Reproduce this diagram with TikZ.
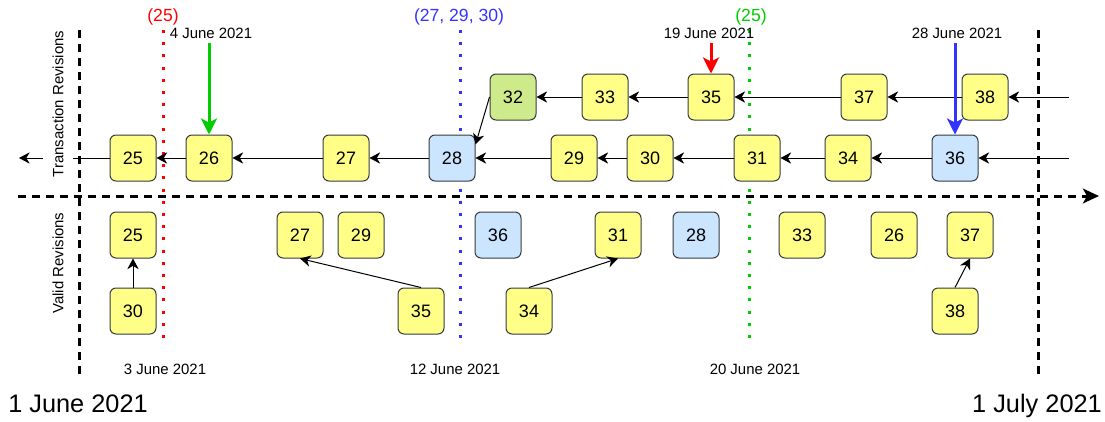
\documentclass[tikz,border=0pt]{standalone}
\usepackage{fontspec}
\setmainfont{Liberation Sans}
\usetikzlibrary{arrows.meta}

\definecolor{boxline}{HTML}{36393D}
\definecolor{revyellow}{HTML}{FFFF88}
\definecolor{revblue}{HTML}{CCE5FF}
\definecolor{revgreen}{HTML}{CDEB8B}
\definecolor{tagred}{HTML}{FF0000}
\definecolor{tagblue}{HTML}{3333FF}
\definecolor{taggreen}{HTML}{00CC00}

\begin{document}
\begin{tikzpicture}[x=0.75pt,y=-0.75pt,
  rev/.style={draw=boxline, line width=0.75pt, rounded corners=4.5pt,
    minimum width=34.5pt, minimum height=34.5pt, inner sep=0pt,
    font=\fontsize{13.5}{16}\selectfont, fill=revyellow},
  revb/.style={rev, fill=revblue},
  revg/.style={rev, fill=revgreen},
  link/.style={draw=black, line width=0.75pt,
    -{Stealth[length=8pt,width=8.5pt,inset=2.5pt]}},
  pointer/.style={line width=2.25pt,
    -{Stealth[length=12pt,width=12pt,inset=3pt]}},
  cutoff/.style={line width=2.25pt, dash pattern=on 2.25pt off 6.9pt},
  bound/.style={line width=2.25pt, dash pattern=on 6pt off 4.5pt},
  datelbl/.style={font=\fontsize{11.2}{13}\selectfont, inner sep=0pt, anchor=base},
  taglbl/.style={font=\fontsize{13.2}{15}\selectfont, inner sep=0pt, anchor=base},
  biglbl/.style={font=\fontsize{19}{22}\selectfont, inner sep=0pt, anchor=base},
  axislbl/.style={font=\fontsize{11.2}{13}\selectfont, rotate=90,
    inner xsep=0pt, inner ysep=7pt},
]
\useasboundingbox (0,0) rectangle (1105,421);

% time boundaries (1 June / 1 July)
\coordinate (bLtop) at (79,30);  \coordinate (bLbot) at (79,378);
\coordinate (bRtop) at (1038,30); \coordinate (bRbot) at (1038,378);
\draw[bound] (bLtop) -- (bLbot);
\draw[bound] (bRtop) -- (bRbot);

% cut-off dates
\coordinate (cRtop) at (163,30); \coordinate (cRbot) at (163,347);
\coordinate (cBtop) at (460,30); \coordinate (cBbot) at (460,347);
\coordinate (cGtop) at (749,30); \coordinate (cGbot) at (749,347);
\draw[cutoff, tagred] (cRtop) -- (cRbot);
\draw[cutoff, tagblue] (cBtop) -- (cBbot);
\draw[cutoff, taggreen] (cGtop) -- (cGbot);

\node[taglbl, text=tagred] (tagR) at (163,21.5) {(25)};
\node[taglbl, text=tagblue] (tagB) at (459,21.5) {(27, 29, 30)};
\node[taglbl, text=taggreen] (tagG) at (751,21.5) {(25)};

% time axis
\coordinate (axL) at (18,196);
\coordinate (axR) at (1099,196);
\draw[bound, -{Stealth[length=12pt,width=11pt,inset=3pt]}] (axL) -- (axR);

% transaction revisions, main row
\node[rev]  (t25) at (133,158) {25};
\node[rev]  (t26) at (209,158) {26};
\node[rev]  (t27) at (346,158) {27};
\node[revb] (t28) at (452,158) {28};
\node[rev]  (t29) at (574,158) {29};
\node[rev]  (t30) at (650,158) {30};
\node[rev]  (t31) at (757,158) {31};
\node[rev]  (t34) at (848,158) {34};
\node[revb] (t36) at (955,158) {36};

% transaction revisions, branch row
\node[revg] (t32) at (513,97) {32};
\node[rev]  (t33) at (605,97) {33};
\node[rev]  (t35) at (711,97) {35};
\node[rev]  (t37) at (864,97) {37};
\node[rev]  (t38) at (985,97) {38};

\coordinate (leftend) at (19,158);
\coordinate (rin1) at (1069,97);
\coordinate (rin2) at (1069,158);

\draw[link] (rin2) -- (t36);
\draw[link] (t36) -- (t34);
\draw[link] (t34) -- (t31);
\draw[link] (t31) -- (t30);
\draw[link] (t30) -- (t29);
\draw[link] (t29) -- (t28);
\draw[link] (t28) -- (t27);
\draw[link] (t27) -- (t26);
\draw[link] (t26) -- (t25);
\draw[link] (t25) -- (leftend);

\draw[link] (rin1) -- (t38);
\draw[link] (t38) -- (t37);
\draw[link] (t37) -- (t35);
\draw[link] (t35) -- (t33);
\draw[link] (t33) -- (t32);
\draw[link] (t32.west) -- (t28.30);

% row labels
\node[axislbl, fill=white] (lblT) at (58,104) {Transaction Revisions};
\node[axislbl] (lblV) at (58,263) {Valid Revisions};

% transaction dates
\coordinate (pG) at (209,43);
\coordinate (pR) at (711,43);
\coordinate (pB) at (955,43);
\node[datelbl] (dG) at (211,38.4) {4 June 2021};
\node[datelbl] (dR) at (709,38.4) {19 June 2021};
\node[datelbl] (dB) at (957,38.4) {28 June 2021};
\draw[pointer, taggreen] (pG) -- (t26.north);
\draw[pointer, tagred] (pR) -- (t35.north);
\draw[pointer, tagblue] (pB) -- (t36.north);

% valid revisions
\node[rev]  (v25) at (133,235) {25};
\node[rev]  (v27) at (300,235) {27};
\node[rev]  (v29) at (361,235) {29};
\node[revb] (v36) at (498,235) {36};
\node[rev]  (v31) at (618,235) {31};
\node[revb] (v28) at (696,235) {28};
\node[rev]  (v33) at (802,235) {33};
\node[rev]  (v26) at (894,235) {26};
\node[rev]  (v37) at (970,235) {37};
\node[rev]  (v30) at (133,311) {30};
\node[rev]  (v35) at (421,311) {35};
\node[rev]  (v34) at (529,311) {34};
\node[rev]  (v38) at (955,311) {38};

\draw[link] (v30) -- (v25);
\draw[link] (v35.north) -- (v27.south);
\draw[link] (v34.north) -- (v31.south);
\draw[link] (v38.north) -- (v37.south);

% valid dates
\node[datelbl] (vd1) at (165,374.5) {3 June 2021};
\node[datelbl] (vd2) at (455,374.5) {12 June 2021};
\node[datelbl] (vd3) at (755,374.5) {20 June 2021};

\node[biglbl] (start) at (78,412) {1 June 2021};
\node[biglbl] (end) at (1037,412) {1 July 2021};
\end{tikzpicture}
\end{document}
